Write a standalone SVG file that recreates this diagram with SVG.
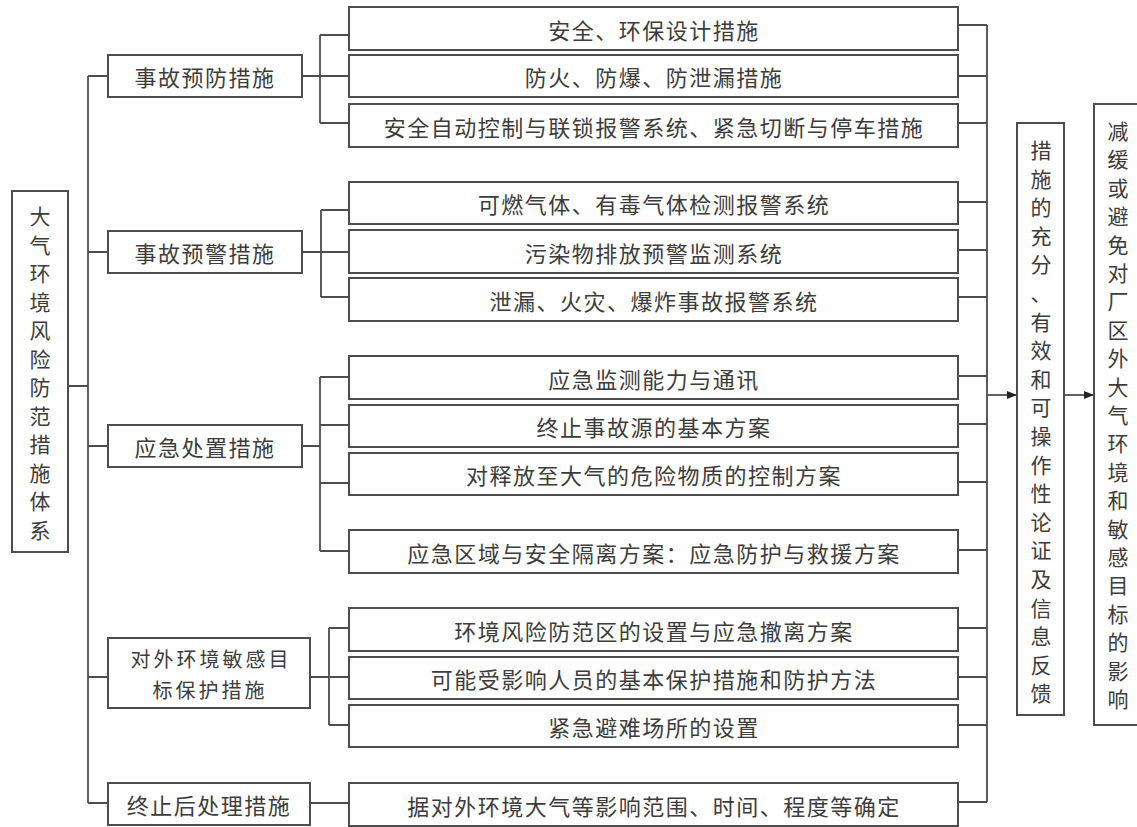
<svg xmlns="http://www.w3.org/2000/svg" width="1137" height="827" viewBox="0 0 1137 827">
<defs>
<style>
.box{fill:#fff;stroke:#4d4d4d;stroke-width:2}
.ln{fill:none;stroke:#4d4d4d;stroke-width:1.8}
.t{font-family:"Noto Sans CJK SC","Noto Sans CJK JP",sans-serif;font-size:22px;fill:#3c3c3c;text-anchor:middle;dominant-baseline:central;letter-spacing:1.5px}
.t2{font-family:"Noto Sans CJK SC","Noto Sans CJK JP",sans-serif;font-size:20px;fill:#3c3c3c;text-anchor:middle;dominant-baseline:central;letter-spacing:3px}
.v{font-family:"Noto Sans CJK SC","Noto Sans CJK JP",sans-serif;font-size:21px;fill:#3c3c3c;text-anchor:middle;dominant-baseline:central}
</style>
<marker id="ah" markerWidth="10" markerHeight="8" refX="9" refY="4" orient="auto" markerUnits="userSpaceOnUse">
<path d="M0,0 L10,4 L0,8 Z" fill="#222"/>
</marker>
</defs>
<rect width="1137" height="827" fill="#fff"/>

<g id="connectors">
<path class="ln" d="M68,386 H88 M88,76 V803 M88,76 H108 M88,252 H108 M88,446 H108 M88,677 H108 M88,803 H108"/>
<path class="ln" d="M302,76 H349 M320,35 V123 M320,35 H349 M320,123 H349"/>
<path class="ln" d="M302,252 H349 M321,210 V297 M321,210 H349 M321,297 H349"/>
<path class="ln" d="M302,446 H320 M320,377 V551 M320,377 H349 M320,425 H349 M320,483 H349 M320,551 H349"/>
<path class="ln" d="M310,677 H349 M329,628 V725 M329,628 H349 M329,725 H349"/>
<path class="ln" d="M310,803 H349"/>
<path class="ln" d="M958,25 H987 M958,76 H987 M958,123 H987 M958,202 H987 M958,250 H987 M958,297 H987 M958,376 H987 M958,424 H987 M958,482 H987 M958,550 H987 M958,628 H987 M958,677 H987 M958,725 H987 M958,802 H987 M987,25 V802"/>
<path class="ln" d="M987,395 H1016" marker-end="url(#ah)"/>
<path class="ln" d="M1064,395 H1093" marker-end="url(#ah)"/>
</g>

<g id="root"><rect class="box" x="12" y="191" width="56" height="361"/>
<text class="v"><tspan x="40" y="215">大</tspan><tspan x="40" y="243.5">气</tspan><tspan x="40" y="272">环</tspan><tspan x="40" y="300.5">境</tspan><tspan x="40" y="329">风</tspan><tspan x="40" y="357.5">险</tspan><tspan x="40" y="386">防</tspan><tspan x="40" y="414.5">范</tspan><tspan x="40" y="443">措</tspan><tspan x="40" y="471.5">施</tspan><tspan x="40" y="500">体</tspan><tspan x="40" y="528.5">系</tspan></text></g>

<g id="n1"><rect class="box" x="108" y="55" width="194" height="42"/><text class="t" x="205" y="76">事故预防措施</text></g>
<g id="n2"><rect class="box" x="108" y="231" width="194" height="42"/><text class="t" x="205" y="252">事故预警措施</text></g>
<g id="n3"><rect class="box" x="108" y="425" width="194" height="42"/><text class="t" x="205" y="446">应急处置措施</text></g>
<g id="n4"><rect class="box" x="108" y="638" width="202" height="70"/><text class="t2" x="211" y="658">对外环境敏感目</text><text class="t2" x="210" y="689">标保护措施</text></g>
<g id="n5"><rect class="box" x="108" y="783" width="202" height="42"/><text class="t" x="209" y="804">终止后处理措施</text></g>

<g id="r1"><rect class="box" x="349" y="7" width="609" height="43"/><text class="t" x="654" y="28.5">安全、环保设计措施</text></g>
<g id="r2"><rect class="box" x="349" y="55" width="609" height="42"/><text class="t" x="654" y="76">防火、防爆、防泄漏措施</text></g>
<g id="r3"><rect class="box" x="349" y="104" width="609" height="43"/><text class="t" x="654" y="125.5">安全自动控制与联锁报警系统、紧急切断与停车措施</text></g>
<g id="r4"><rect class="box" x="349" y="182" width="609" height="42"/><text class="t" x="654" y="203">可燃气体、有毒气体检测报警系统</text></g>
<g id="r5"><rect class="box" x="349" y="230" width="609" height="43"/><text class="t" x="654" y="251.5">污染物排放预警监测系统</text></g>
<g id="r6"><rect class="box" x="349" y="278" width="609" height="43"/><text class="t" x="654" y="299.5">泄漏、火灾、爆炸事故报警系统</text></g>
<g id="r7"><rect class="box" x="349" y="356" width="609" height="43"/><text class="t" x="654" y="377.5">应急监测能力与通讯</text></g>
<g id="r8"><rect class="box" x="349" y="405" width="609" height="42"/><text class="t" x="654" y="426">终止事故源的基本方案</text></g>
<g id="r9"><rect class="box" x="349" y="453" width="609" height="42"/><text class="t" x="654" y="474">对释放至大气的危险物质的控制方案</text></g>
<g id="r10"><rect class="box" x="349" y="530" width="609" height="43"/><text class="t" x="654" y="551.5">应急区域与安全隔离方案：应急防护与救援方案</text></g>
<g id="r11"><rect class="box" x="349" y="608" width="609" height="43"/><text class="t" x="654" y="629.5">环境风险防范区的设置与应急撤离方案</text></g>
<g id="r12"><rect class="box" x="349" y="657" width="609" height="42"/><text class="t" x="654" y="678">可能受影响人员的基本保护措施和防护方法</text></g>
<g id="r13"><rect class="box" x="349" y="705" width="609" height="42"/><text class="t" x="654" y="726">紧急避难场所的设置</text></g>
<g id="r14"><rect class="box" x="349" y="783" width="609" height="43"/><text class="t" x="654" y="804.5">据对外环境大气等影响范围、时间、程度等确定</text></g>

<g id="verify"><rect class="box" x="1017" y="123" width="47" height="592"/>
<text class="v"><tspan x="1041" y="149">措</tspan><tspan x="1041" y="177.6">施</tspan><tspan x="1041" y="206.2">的</tspan><tspan x="1041" y="234.8">充</tspan><tspan x="1041" y="263.4">分</tspan><tspan x="1041" y="292">、</tspan><tspan x="1041" y="320.6">有</tspan><tspan x="1041" y="349.2">效</tspan><tspan x="1041" y="377.8">和</tspan><tspan x="1041" y="406.4">可</tspan><tspan x="1041" y="435">操</tspan><tspan x="1041" y="463.6">作</tspan><tspan x="1041" y="492.2">性</tspan><tspan x="1041" y="520.8">论</tspan><tspan x="1041" y="549.4">证</tspan><tspan x="1041" y="578">及</tspan><tspan x="1041" y="606.6">信</tspan><tspan x="1041" y="635.2">息</tspan><tspan x="1041" y="663.8">反</tspan><tspan x="1041" y="692.4">馈</tspan></text></g>

<g id="goal"><rect class="box" x="1094" y="104" width="52" height="621"/>
<text class="v"><tspan x="1118" y="130">减</tspan><tspan x="1118" y="158.4">缓</tspan><tspan x="1118" y="186.8">或</tspan><tspan x="1118" y="215.2">避</tspan><tspan x="1118" y="243.6">免</tspan><tspan x="1118" y="272">对</tspan><tspan x="1118" y="300.4">厂</tspan><tspan x="1118" y="328.8">区</tspan><tspan x="1118" y="357.2">外</tspan><tspan x="1118" y="385.6">大</tspan><tspan x="1118" y="414">气</tspan><tspan x="1118" y="442.4">环</tspan><tspan x="1118" y="470.8">境</tspan><tspan x="1118" y="499.2">和</tspan><tspan x="1118" y="527.6">敏</tspan><tspan x="1118" y="556">感</tspan><tspan x="1118" y="584.4">目</tspan><tspan x="1118" y="612.8">标</tspan><tspan x="1118" y="641.2">的</tspan><tspan x="1118" y="669.6">影</tspan><tspan x="1118" y="698">响</tspan></text></g>
</svg>
